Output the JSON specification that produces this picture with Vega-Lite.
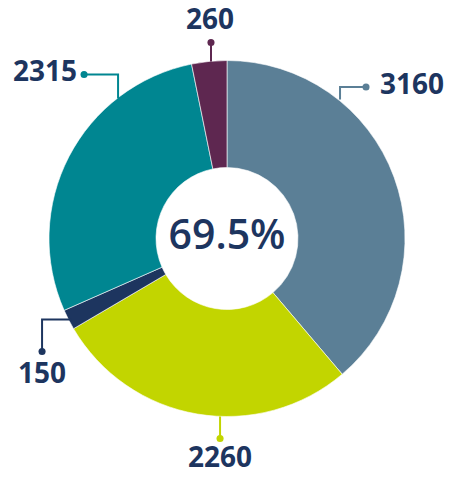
{
  "$schema": "https://vega.github.io/schema/vega-lite/v6.json",
  "width": 454,
  "height": 477,
  "padding": 0,
  "autosize": {"type": "none"},
  "background": "white",
  "view": {"stroke": null},
  "config": {"text": {"font": "Open Sans", "fontWeight": 700, "color": "#1d355f"}},
  "datasets": {
    "slices": [
      {"label": "3160", "value": 3160, "rank": 1},
      {"label": "2260", "value": 2260, "rank": 2},
      {"label": "150", "value": 150, "rank": 3},
      {"label": "2315", "value": 2315, "rank": 4},
      {"label": "260", "value": 260, "rank": 5}
    ],
    "leaders": [
      {"label": "3160", "step": 1, "x": 0.635, "y": 0.781},
      {"label": "3160", "step": 2, "x": 0.635, "y": 0.851},
      {"label": "3160", "step": 3, "x": 0.781, "y": 0.851},
      {"label": "2315", "step": 1, "x": -0.612, "y": 0.787},
      {"label": "2315", "step": 2, "x": -0.612, "y": 0.921},
      {"label": "2315", "step": 3, "x": -0.803, "y": 0.921},
      {"label": "260", "step": 1, "x": -0.09, "y": 0.994},
      {"label": "260", "step": 2, "x": -0.09, "y": 1.101},
      {"label": "150", "step": 1, "x": -0.871, "y": -0.455},
      {"label": "150", "step": 2, "x": -1.039, "y": -0.455},
      {"label": "150", "step": 3, "x": -1.039, "y": -0.635},
      {"label": "2260", "step": 1, "x": -0.039, "y": -1.0},
      {"label": "2260", "step": 2, "x": -0.039, "y": -1.124}
    ],
    "tips": [
      {"label": "3160", "dotX": 0.781, "dotY": 0.851, "textX": 0.86, "textY": 0.856},
      {"label": "2315", "dotX": -0.803, "dotY": 0.921, "textX": -0.843, "textY": 0.929},
      {"label": "260", "dotX": -0.09, "dotY": 1.101, "textX": -0.095, "textY": 1.221},
      {"label": "150", "dotX": -1.039, "dotY": -0.635, "textX": -1.039, "textY": -0.767},
      {"label": "2260", "dotX": -0.039, "dotY": -1.124, "textX": -0.039, "textY": -1.24}
    ],
    "center": [{"share": "69.5%", "x": 0, "y": 0.008}]
  },
  "layer": [
    {
      "data": {"name": "slices"},
      "mark": {"type": "arc", "outerRadius": 178, "innerRadius": 71, "stroke": "white", "strokeWidth": 0.6},
      "encoding": {
        "theta": {"field": "value", "type": "quantitative", "stack": true},
        "order": {"field": "rank", "type": "quantitative"},
        "color": {
          "field": "label", "type": "nominal", "legend": null,
          "scale": {"domain": ["3160", "2260", "150", "2315", "260"], "range": ["#5b7f96", "#c2d500", "#1d355f", "#008691", "#5e2750"]}
        }
      }
    },
    {
      "data": {"name": "leaders"},
      "mark": {"type": "line", "strokeWidth": 2},
      "encoding": {
        "x": {"field": "x", "type": "quantitative", "axis": null, "scale": {"domain": [-1.2753, 1.2753], "nice": false, "zero": false}},
        "y": {"field": "y", "type": "quantitative", "axis": null, "scale": {"domain": [-1.3399, 1.3399], "nice": false, "zero": false}},
        "detail": {"field": "label"},
        "order": {"field": "step", "type": "quantitative"},
        "color": {"field": "label", "type": "nominal", "legend": null}
      }
    },
    {
      "data": {"name": "tips"},
      "mark": {"type": "point", "filled": true, "opacity": 1, "size": 50},
      "encoding": {
        "x": {"field": "dotX", "type": "quantitative"},
        "y": {"field": "dotY", "type": "quantitative"},
        "color": {"field": "label", "type": "nominal", "legend": null}
      }
    },
    {
      "data": {"name": "tips"},
      "transform": [{"filter": "datum.label == '3160'"}],
      "mark": {"type": "text", "align": "left", "baseline": "middle", "fontSize": 28},
      "encoding": {
        "x": {"field": "textX", "type": "quantitative"},
        "y": {"field": "textY", "type": "quantitative"},
        "text": {"field": "label"}
      }
    },
    {
      "data": {"name": "tips"},
      "transform": [{"filter": "datum.label == '2315'"}],
      "mark": {"type": "text", "align": "right", "baseline": "middle", "fontSize": 28},
      "encoding": {
        "x": {"field": "textX", "type": "quantitative"},
        "y": {"field": "textY", "type": "quantitative"},
        "text": {"field": "label"}
      }
    },
    {
      "data": {"name": "tips"},
      "transform": [{"filter": "datum.label != '3160' && datum.label != '2315'"}],
      "mark": {"type": "text", "align": "center", "baseline": "middle", "fontSize": 28},
      "encoding": {
        "x": {"field": "textX", "type": "quantitative"},
        "y": {"field": "textY", "type": "quantitative"},
        "text": {"field": "label"}
      }
    },
    {
      "data": {"name": "center"},
      "mark": {"type": "text", "align": "center", "baseline": "middle", "fontSize": 41, "fontWeight": 600},
      "encoding": {
        "x": {"field": "x", "type": "quantitative"},
        "y": {"field": "y", "type": "quantitative"},
        "text": {"field": "share"}
      }
    }
  ]
}
